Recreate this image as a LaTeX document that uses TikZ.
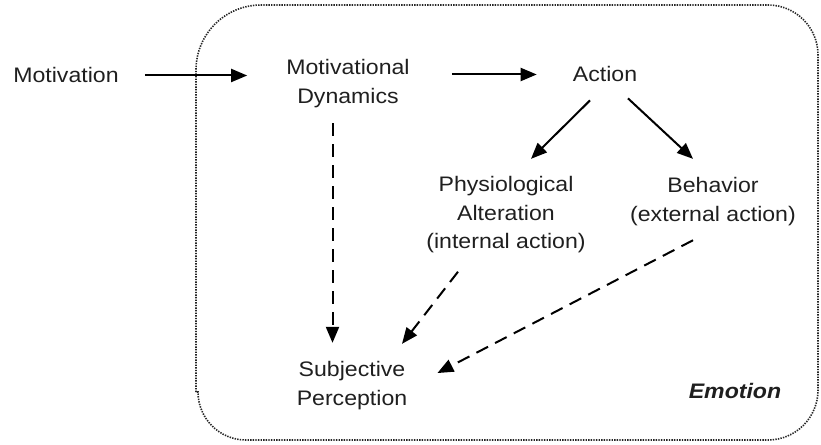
\documentclass[tikz,border=0pt]{standalone}
\usepackage{fontspec}
\setmainfont{Liberation Sans}[FakeStretch=1.1]
\usetikzlibrary{arrows.meta,calc}

% stacked lines, first baseline is the node baseline
\newcommand\stacklines[1]{\begin{tabular}[t]{@{}c@{}}#1\end{tabular}}

\tikzset{
  lbl/.style={inner sep=0pt, anchor=base, text=black!88,
    font=\fontsize{21bp}{28.5bp}\selectfont},
  solidarrow/.style={line width=2bp, draw=black,
    -{Triangle[length=16bp,width=13bp]}},
  dasharrow/.style={solidarrow, dash pattern=on 13bp off 8bp},
  emotionbox/.style={line width=1.6bp, draw=black!85,
    dash pattern=on 1.4bp off 1.2bp}
}

\begin{document}
\begin{tikzpicture}[x=1bp,y=1bp]
  \useasboundingbox (0,0) rectangle (821,-445);

  % enclosing region for the emotion process
  \draw[emotionbox] (196,-392) -- (196,-70)
    arc[start angle=180, end angle=90, radius=65] -- (768,-5)
    arc[start angle=90, end angle=0, radius=50] -- (818,-390)
    arc[start angle=0, end angle=-90, radius=50] -- (246,-440)
    arc[start angle=270, end angle=180, radius=48] -- cycle;

  % labels
  \node[lbl] (mot)  at (66,-83)   {Motivation};
  \node[lbl] (md)   at (348,-75)  {\stacklines{Motivational\\Dynamics}};
  \node[lbl] (act)  at (605,-82)  {Action};
  \node[lbl] (phys) at (506,-192) {\stacklines{Physiological\\Alteration\\(internal action)}};
  \node[lbl] (beh)  at (713,-193) {\stacklines{Behavior\\(external action)}};
  \node[lbl] (subj) at (352,-377) {\stacklines{Subjective\\Perception}};
  \node[lbl] (emo)  at (735,-398) {\textbf{\textit{Emotion}}};

  % causal chain
  \draw[solidarrow, shorten <=26bp, shorten >=39bp] (mot) -- (mot -| md.west);
  \draw[solidarrow, shorten <=42bp, shorten >=36bp] (md.east |- act) -- (act);
  \draw[solidarrow] ($(act.south)+(-15,-18)$) -- ($(phys.north)+(25,13)$);
  \draw[solidarrow] ($(act.south)+(23,-16)$) -- ($(beh.north)+(-20,14)$);

  % feedback into subjective perception
  \draw[dasharrow] ($(md.south)+(-15.5,-11)$) -- ($(subj.north)+(-19.5,14)$);
  \draw[dasharrow] ($(phys.south)+(-48,-14)$) -- ($(subj.north)+(50,13)$);
  \draw[dasharrow] ($(beh.south)+(-20,-10)$) -- ($(subj.east)+(30,12.5)$);
\end{tikzpicture}
\end{document}
